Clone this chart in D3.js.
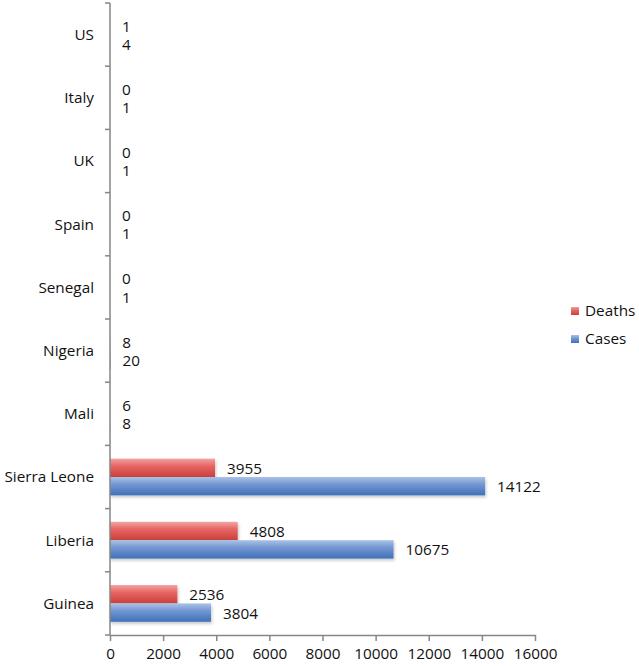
<!DOCTYPE html>
<html>
<head>
<meta charset="utf-8">
<script src="https://cdn.jsdelivr.net/npm/d3@7"></script>
<style>
  html, body { margin: 0; padding: 0; background: #fff; }
  svg { display: block; font-family: "Open Sans", "Liberation Sans", Arial, sans-serif; }
</style>
</head>
<body>
<svg id="chart" width="639" height="666"></svg>
<script>
const categories = ["Guinea", "Liberia", "Sierra Leone", "Mali", "Nigeria", "Senegal", "Spain", "UK", "Italy", "US"];
const deaths = [2536, 4808, 3955, 6, 8, 0, 0, 0, 0, 1];
const cases = [3804, 10675, 14122, 8, 20, 1, 1, 1, 1, 4];
const seriesNames = ["Deaths", "Cases"];
const xTicks = [0, 2000, 4000, 6000, 8000, 10000, 12000, 14000, 16000];

const FONT = "'Open Sans', 'Liberation Sans', Arial, sans-serif";
const FS = 15.3;
const svg = d3.select("#chart");
const mLeft = 110, mRight = 535, mTop = 3, mBottom = 635;

const x = d3.scaleLinear().domain([0, 16000]).range([mLeft, mRight]);
const y = d3.scaleBand().domain(categories.slice().reverse()).range([mTop, mBottom]).paddingInner(0).paddingOuter(0);
const ySub = d3.scaleBand().domain(seriesNames).range([0, y.bandwidth()]).paddingInner(0).paddingOuter(0.72);

const defs = svg.append("defs");
const gradRed = defs.append("linearGradient").attr("id", "gRed").attr("x1", 0).attr("y1", 0).attr("x2", 0).attr("y2", 1);
gradRed.append("stop").attr("offset", "0%").attr("stop-color", "#f3a3a1");
gradRed.append("stop").attr("offset", "40%").attr("stop-color", "#e66663");
gradRed.append("stop").attr("offset", "100%").attr("stop-color", "#c9403c");
const gradBlue = defs.append("linearGradient").attr("id", "gBlue").attr("x1", 0).attr("y1", 0).attr("x2", 0).attr("y2", 1);
gradBlue.append("stop").attr("offset", "0%").attr("stop-color", "#aac2e8");
gradBlue.append("stop").attr("offset", "40%").attr("stop-color", "#7397d3");
gradBlue.append("stop").attr("offset", "100%").attr("stop-color", "#4070b8");
const shadow = defs.append("filter").attr("id", "shadow").attr("x", "-5%").attr("y", "-20%").attr("width", "120%").attr("height", "160%");
shadow.append("feDropShadow").attr("dx", 1).attr("dy", 2).attr("stdDeviation", 1.5).attr("flood-color", "#000").attr("flood-opacity", 0.22);

const fills = { Deaths: "url(#gRed)", Cases: "url(#gBlue)" };

// bars
const rows = categories.map((c, i) => ({ cat: c, Deaths: deaths[i], Cases: cases[i] }));
const gRows = svg.append("g").selectAll("g").data(rows).join("g")
  .attr("transform", d => `translate(0,${y(d.cat)})`);

seriesNames.forEach(s => {
  gRows.append("rect")
    .attr("x", x(0))
    .attr("y", ySub(s))
    .attr("width", d => x(d[s]) - x(0))
    .attr("height", ySub.bandwidth())
    .attr("fill", fills[s])
    .attr("filter", "url(#shadow)");
  gRows.append("text")
    .attr("x", d => x(d[s]) + 12)
    .attr("y", ySub(s) + ySub.bandwidth() / 2)
    .attr("dy", "0.4em")
    .attr("font-size", FS)
    .attr("fill", "#111")
    .text(d => d[s]);
});

// x axis
const xAxis = d3.axisBottom(x).tickValues(xTicks).tickSize(6).tickSizeOuter(0).tickPadding(7).tickFormat(d3.format("d"));
const gx = svg.append("g").attr("transform", `translate(0,${mBottom})`).call(xAxis);
gx.select(".domain").attr("stroke", "#868686").attr("stroke-width", 1.5);
gx.selectAll(".tick line").attr("stroke", "#868686").attr("stroke-width", 1.5);
gx.selectAll(".tick text").attr("font-size", FS).attr("fill", "#111").attr("font-family", FONT);

// y axis line and ticks at band boundaries
svg.append("line").attr("x1", mLeft).attr("x2", mLeft).attr("y1", mTop).attr("y2", mBottom)
  .attr("stroke", "#868686").attr("stroke-width", 1.5);
const boundaries = categories.map(c => y(c)).concat([y.range()[1]]);
svg.append("g").selectAll("line").data(boundaries).join("line")
  .attr("x1", mLeft - 5).attr("x2", mLeft).attr("y1", d => d).attr("y2", d => d)
  .attr("stroke", "#868686").attr("stroke-width", 1.5);

// category labels
svg.append("g").selectAll("text").data(categories).join("text")
  .attr("x", mLeft - 16)
  .attr("y", d => y(d) + y.bandwidth() / 2)
  .attr("dy", "0.35em")
  .attr("text-anchor", "end")
  .attr("font-size", FS)
  .attr("fill", "#111")
  .text(d => d);

// legend
const legend = svg.append("g").selectAll("g").data(seriesNames).join("g")
  .attr("transform", (d, i) => `translate(571,${311 + i * 28})`);
legend.append("rect").attr("x", 0).attr("y", -4).attr("width", 8).attr("height", 8)
  .attr("fill", d => fills[d]);
legend.append("text").attr("x", 14).attr("y", 0).attr("dy", "0.35em")
  .attr("font-size", FS).attr("fill", "#111").text(d => d);
</script>
</body>
</html>
